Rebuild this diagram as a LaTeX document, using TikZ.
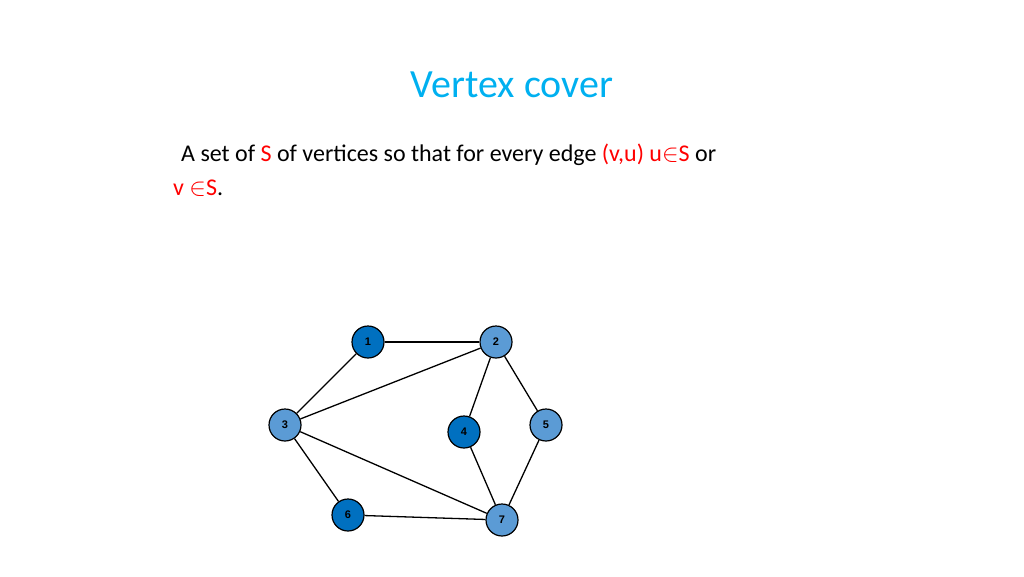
\documentclass[tikz,border=0pt]{standalone}
\usepackage{fontspec}
\setmainfont{Carlito}
\newfontfamily\arialf{Liberation Sans}
\definecolor{titlec}{RGB}{0,176,240}
\definecolor{redc}{RGB}{255,0,0}
\definecolor{darkn}{RGB}{0,112,192}
\definecolor{lightn}{RGB}{91,155,213}
\begin{document}
\begin{tikzpicture}[x=1pt,y=-1pt,
  vtx/.style={circle,draw=black,line width=1.2pt,minimum size=32pt,inner sep=0pt,font=\arialf\fontsize{11}{12}\selectfont\bfseries},
  dk/.style={vtx,fill=darkn},
  lt/.style={vtx,fill=lightn},
  edge/.style={line width=1.3pt}]
\useasboundingbox (0,0) rectangle (1024,576);
\node[text=titlec,font=\fontsize{40}{46}\selectfont] (title) at (512,85) {Vertex cover};
\node[anchor=west,font=\fontsize{24}{28}\selectfont,inner sep=0pt] (l1) at (181,155) {A set of \textcolor{redc}{S} of vertices so that for every edge \textcolor{redc}{(v,u) u$\in$S} or};
\node[anchor=west,font=\fontsize{24}{28}\selectfont,inner sep=0pt] (l2) at (173,188) {\textcolor{redc}{v $\in$S}.};
\node[dk] (n1) at (368,342) {1};
\node[lt] (n2) at (496,342) {2};
\node[lt] (n3) at (285,425) {3};
\node[dk] (n4) at (464,432) {4};
\node[lt] (n5) at (546,425) {5};
\node[dk] (n6) at (348,515) {6};
\node[lt] (n7) at (502,520) {7};
\draw[edge] (n1)--(n2);
\draw[edge] (n1)--(n3);
\draw[edge] (n2)--(n3);
\draw[edge] (n2)--(n4);
\draw[edge] (n2)--(n5);
\draw[edge] (n3)--(n6);
\draw[edge] (n3)--(n7);
\draw[edge] (n4)--(n7);
\draw[edge] (n5)--(n7);
\draw[edge] (n6)--(n7);
\end{tikzpicture}
\end{document}
